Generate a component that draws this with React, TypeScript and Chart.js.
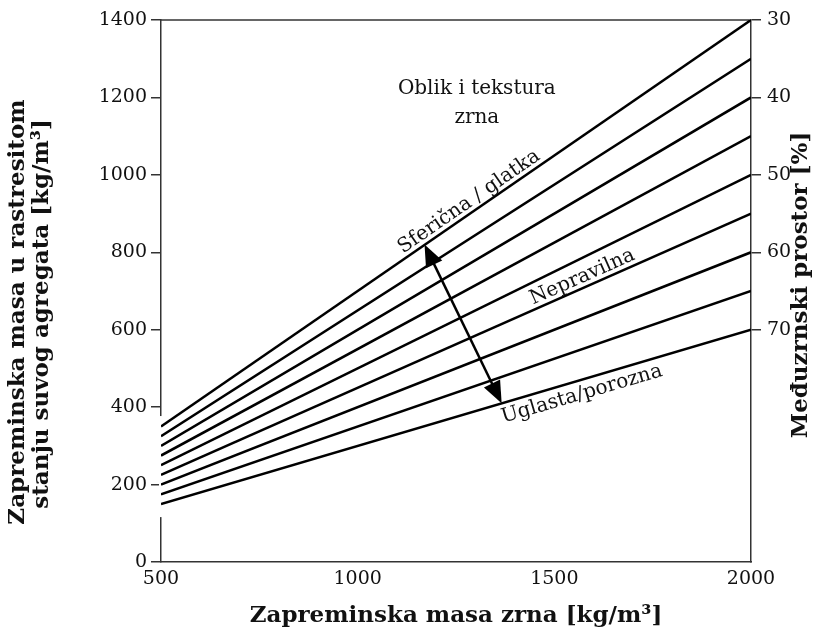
import React, { useEffect, useRef } from "react";
import { Chart, registerables } from "chart.js";

Chart.register(...registerables);

// ---- data ----
const xStart = 500;
const xEnd = 2000;
const voidPercent = [30, 35, 40, 45, 50, 55, 60, 65, 70];
const startValues = [350, 325, 300, 275, 250, 225, 200, 175, 150];
const endValues = [1400, 1300, 1200, 1100, 1000, 900, 800, 700, 600];
const xTicks = [500, 1000, 1500, 2000];
const leftTicks = [0, 200, 400, 600, 800, 1000, 1200, 1400];
const rightTickPositions = [1400, 1200, 1000, 800, 600];
const rightTickLabels = ["30", "40", "50", "60", "70"];

const xTitle = "Zapreminska masa zrna [kg/m³]";
const yTitleLines = ["Zapreminska masa u rastresitom", "stanju suvog agregata [kg/m³]"];
const y2Title = "Međuzrnski prostor [%]";
const headerLines = ["Oblik i tekstura", "zrna"];
const headerPos = [
  { x: 1303, y: 1222 },
  { x: 1303, y: 1147 },
];
const lineLabels = [
  { text: "Sferična / glatka", line: 0, x: 1298, side: "above" },
  { text: "Nepravilna", line: 5, x: 1582, side: "above" },
  { text: "Uglasta/porozna", line: 8, x: 1560, side: "below" },
];
const arrowFrom = { x: 1170, y: 820 };
const arrowTo = { x: 1366, y: 410 };
const leftAxisGap = [116, 377];

const SERIF = "'DejaVu Serif', serif";

const overlay = {
  id: "overlay",
  beforeDatasetsDraw(chart: any) {
    const { ctx, chartArea, scales } = chart;
    const ys = scales.y;
    ctx.save();
    ctx.strokeStyle = "#333";
    ctx.lineWidth = 1.5;
    ctx.beginPath();
    ctx.moveTo(chartArea.left, chartArea.top);
    ctx.lineTo(chartArea.right, chartArea.top);
    ctx.stroke();
    const g1 = ys.getPixelForValue(leftAxisGap[1]);
    const g0 = ys.getPixelForValue(leftAxisGap[0]);
    ctx.fillStyle = "#fff";
    ctx.fillRect(chartArea.left - 2, g1, 4, g0 - g1);
    ctx.restore();
  },
  afterDraw(chart: any) {
    const { ctx, chartArea, scales } = chart;
    const xs = scales.x;
    const ys = scales.y;
    ctx.save();
    ctx.fillStyle = "#111";

    ctx.font = `bold 23px ${SERIF}`;
    ctx.textAlign = "center";
    ctx.textBaseline = "middle";
    ctx.fillText(xTitle, (chartArea.left + chartArea.right) / 2, 616);

    ctx.save();
    ctx.translate(18, 312);
    ctx.rotate(-Math.PI / 2);
    ctx.fillText(yTitleLines[0], 0, 0);
    ctx.restore();
    ctx.save();
    ctx.translate(42, 314);
    ctx.rotate(-Math.PI / 2);
    ctx.fillText(yTitleLines[1], 0, 0);
    ctx.restore();

    ctx.save();
    ctx.translate(801, 285);
    ctx.rotate(-Math.PI / 2);
    ctx.fillText(y2Title, 0, 0);
    ctx.restore();

    ctx.font = `20px ${SERIF}`;
    headerLines.forEach((t, i) => {
      ctx.fillText(t, xs.getPixelForValue(headerPos[i].x), ys.getPixelForValue(headerPos[i].y));
    });

    lineLabels.forEach((l) => {
      const x0 = xs.getPixelForValue(xStart);
      const y0 = ys.getPixelForValue(startValues[l.line]);
      const x1 = xs.getPixelForValue(xEnd);
      const y1 = ys.getPixelForValue(endValues[l.line]);
      const ang = Math.atan2(y1 - y0, x1 - x0);
      const px = xs.getPixelForValue(l.x);
      const t = (px - x0) / (x1 - x0);
      const py = y0 + t * (y1 - y0);
      ctx.save();
      ctx.translate(px, py);
      ctx.rotate(ang);
      ctx.textAlign = "center";
      if (l.side === "above") {
        ctx.textBaseline = "alphabetic";
        ctx.fillText(l.text, 0, -5);
      } else {
        ctx.textBaseline = "top";
        ctx.fillText(l.text, 0, 4);
      }
      ctx.restore();
    });

    const ax0 = xs.getPixelForValue(arrowFrom.x);
    const ay0 = ys.getPixelForValue(arrowFrom.y);
    const ax1 = xs.getPixelForValue(arrowTo.x);
    const ay1 = ys.getPixelForValue(arrowTo.y);
    const dx = ax1 - ax0;
    const dy = ay1 - ay0;
    const len = Math.hypot(dx, dy);
    const ux = dx / len;
    const uy = dy / len;
    const headLen = 22;
    const headW = 9;
    ctx.strokeStyle = "#000";
    ctx.lineWidth = 2.5;
    ctx.beginPath();
    ctx.moveTo(ax0 + ux * headLen * 0.8, ay0 + uy * headLen * 0.8);
    ctx.lineTo(ax1 - ux * headLen * 0.8, ay1 - uy * headLen * 0.8);
    ctx.stroke();
    ctx.fillStyle = "#000";
    const head = (tx: number, ty: number, dirx: number, diry: number) => {
      const bx = tx - dirx * headLen;
      const by = ty - diry * headLen;
      ctx.beginPath();
      ctx.moveTo(tx, ty);
      ctx.lineTo(bx - diry * headW, by + dirx * headW);
      ctx.lineTo(bx + diry * headW, by - dirx * headW);
      ctx.closePath();
      ctx.fill();
    };
    head(ax0, ay0, -ux, -uy);
    head(ax1, ay1, ux, uy);
    ctx.restore();
  },
};

export default function App() {
  const ref = useRef<HTMLCanvasElement | null>(null);
  useEffect(() => {
    if (!ref.current) return;
    const datasets = voidPercent.map((v, i) => ({
      label: `${v} %`,
      data: [
        { x: xStart, y: startValues[i] },
        { x: xEnd, y: endValues[i] },
      ],
      borderColor: "#000",
      borderWidth: 2.5,
      pointRadius: 0,
      fill: false,
      tension: 0,
    }));
    const chart = new Chart(ref.current, {
      type: "line",
      data: { datasets },
      plugins: [overlay],
      options: {
        animation: false,
        responsive: true,
        maintainAspectRatio: false,
        layout: { padding: { top: 20, left: 0, right: 0, bottom: 0 } },
        plugins: { legend: { display: false }, tooltip: { enabled: false } },
        scales: {
          x: {
            type: "linear",
            min: xStart,
            max: xEnd,
            afterFit: (s: any) => {
              s.height = 70;
            },
            afterBuildTicks: (s: any) => {
              s.ticks = xTicks.map((v) => ({ value: v }));
            },
            grid: { display: true, drawOnChartArea: false, drawTicks: false },
            border: { display: true, color: "#333", width: 1.5 },
            ticks: {
              color: "#111",
              font: { family: SERIF, size: 19 },
              padding: 6,
              maxRotation: 0,
              callback: (v: any) => String(v),
            },
          },
          y: {
            type: "linear",
            position: "left",
            min: 0,
            max: 1400,
            afterFit: (s: any) => {
              s.width = 161;
            },
            afterBuildTicks: (s: any) => {
              s.ticks = leftTicks.map((v) => ({ value: v }));
            },
            grid: { drawOnChartArea: false, drawTicks: true, tickLength: 10, color: "#333", lineWidth: 1.5 },
            border: { display: true, color: "#333", width: 1.5 },
            ticks: {
              color: "#111",
              font: { family: SERIF, size: 19 },
              padding: 4,
              callback: (v: any) => String(v),
            },
          },
          y2: {
            type: "linear",
            position: "right",
            min: 0,
            max: 1400,
            afterFit: (s: any) => {
              s.width = 82;
            },
            afterBuildTicks: (s: any) => {
              s.ticks = rightTickPositions.map((v) => ({ value: v }));
            },
            grid: { drawOnChartArea: false, drawTicks: true, tickLength: 10, color: "#333", lineWidth: 1.5 },
            border: { display: true, color: "#333", width: 1.5 },
            ticks: {
              color: "#111",
              font: { family: SERIF, size: 19 },
              padding: 6,
              callback: (v: any) => {
                const i = rightTickPositions.indexOf(Number(v));
                return i >= 0 ? rightTickLabels[i] : "";
              },
            },
          },
        },
      },
    });
    return () => chart.destroy();
  }, []);
  return (
    <div style={{ position: "fixed", left: 0, top: 0, width: 833, height: 632, background: "#fff" }}>
      <canvas ref={ref} />
    </div>
  );
}
